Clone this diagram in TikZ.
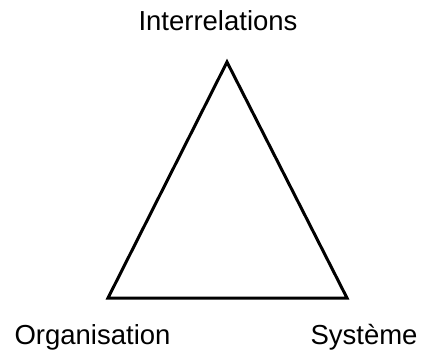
\documentclass[tikz,border=0pt]{standalone}
\usepackage{fontspec}
\setmainfont{Liberation Sans}
\begin{document}
\begin{tikzpicture}[x=1pt,y=-1pt,
  lbl/.style={anchor=base,inner sep=0pt,font=\fontsize{27.5}{30}\selectfont},
  edge/.style={draw=black,line width=3pt,line join=miter}]
\useasboundingbox (0,0) rectangle (423,353);
\coordinate (top) at (227,62);
\coordinate (bl) at (108,298);
\coordinate (br) at (347,298);
\draw[edge] (top) -- (bl) -- (br) -- cycle;
\node[lbl] (inter) at (218,31) {Interrelations};
\node[lbl] (org) at (92.5,344) {Organisation};
\node[lbl] (sys) at (364,344) {Système};
\end{tikzpicture}
\end{document}
